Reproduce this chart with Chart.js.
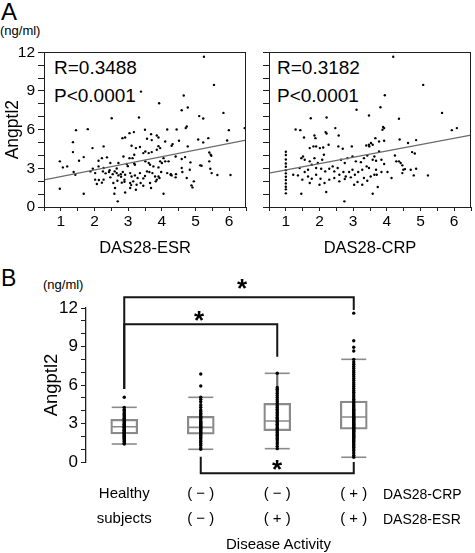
<!DOCTYPE html>
<html><head><meta charset="utf-8">
<script src="https://cdn.jsdelivr.net/npm/chart.js@4.4.1/dist/chart.umd.min.js"></script>
<style>
html,body{margin:0;padding:0;background:#fff}
body{width:475px;height:553px;position:relative;overflow:hidden;font-family:"Liberation Sans",Arial,sans-serif;color:#000}
.t{position:absolute;white-space:nowrap;line-height:1}
.star{position:absolute;white-space:nowrap;line-height:1;font-weight:bold;font-size:26px}
canvas{position:absolute}
</style></head><body>
<div class="t" style="left:1px;top:0px;font-size:24px">A</div>
<div class="t" style="left:0px;top:24px;font-size:13px">(ng/ml)</div>
<div class="t" style="left:54px;top:58px;font-size:19px">R=0.3488</div>
<div class="t" style="left:54px;top:86px;font-size:19px">P&lt;0.0001</div>
<div class="t" style="left:277px;top:58px;font-size:19px">R=0.3182</div>
<div class="t" style="left:277px;top:86px;font-size:19px">P&lt;0.0001</div>
<canvas id="cEsr" width="250" height="220" style="left:0px;top:40px"></canvas>
<canvas id="cCrp" width="225" height="220" style="left:250px;top:40px"></canvas>

<div class="t" style="left:1px;top:267px;font-size:23px">B</div>
<div class="t" style="left:43px;top:278px;font-size:13px">(ng/ml)</div>
<canvas id="cBox" width="475" height="291" style="left:0px;top:262px"></canvas>
<div class="star" style="left:237px;top:275px">*</div>
<div class="star" style="left:194px;top:307px">*</div>
<div class="star" style="left:272px;top:456px">*</div>
<div class="t" style="left:383px;top:487px;font-size:14px">DAS28-CRP</div>
<div class="t" style="left:383px;top:512px;font-size:14px">DAS28-ESR</div>
<div class="t" style="left:226px;top:536px;font-size:15px">Disease Activity</div>

<script>
// ---------- Panel A data ----------
const esrPoints = [
 [3.38,8.95],[2.51,6.89],[3.32,6.94],[1.45,5.96],[1.80,6.04],[1.36,5.03],[1.36,4.26],[1.94,4.57],[2.27,4.70],[0.97,3.54],
 [1.06,3.07],[1.19,3.15],[1.54,3.59],[1.68,3.87],[1.38,2.71],[1.43,2.50],[0.97,1.42],[1.68,1.03],[2.83,5.34],[2.91,5.39],
 [3.04,5.73],[3.17,5.81],[3.50,5.99],[3.10,4.75],[3.23,4.57],[3.35,4.65],[3.45,4.18],[3.04,3.79],[3.13,3.79],[3.18,4.05],
 [2.86,3.92],[2.71,3.41],[2.96,3.33],[3.20,3.28],[2.12,3.59],[2.22,3.79],[2.37,3.85],[2.47,3.41],[1.88,2.76],[1.95,2.97],
 [2.02,2.63],[2.12,3.15],[2.27,3.02],[2.25,2.76],[2.43,2.71],[2.02,2.12],[2.07,1.78],[2.22,1.89],[2.27,2.12],[2.47,2.30],
 [2.54,2.55],[2.60,2.76],[2.66,2.63],[2.71,2.45],[2.78,2.55],[2.84,2.71],[2.91,2.50],[2.56,1.86],[2.68,2.04],[2.81,1.89],
 [2.89,2.12],[2.61,1.47],[2.59,1.03],[2.91,1.13],[2.69,0.44],[3.06,2.63],[3.10,2.37],[3.20,2.45],[3.28,2.25],[3.35,2.63],
 [3.45,2.22],[3.50,2.40],[3.06,1.86],[3.15,1.99],[3.25,1.73],[3.37,1.86],[3.45,1.65],[3.06,1.47],[3.23,1.34],
 [2.13,2.09],[2.33,2.61],[2.45,2.86],[2.66,2.99],[2.79,2.35],[2.89,1.96],[2.99,3.17],[3.09,1.70],[3.18,3.38],
 [5.25,11.66],[5.55,9.47],[3.92,8.05],[4.65,8.65],[4.59,7.51],[4.77,7.72],[5.83,7.30],[5.11,7.05],[5.23,6.86],[6.46,6.12],
 [5.99,5.96],[4.71,6.12],[4.74,6.25],[4.44,6.01],[4.16,6.01],[3.68,5.65],[3.85,5.55],[3.90,5.39],[3.56,5.29],[3.70,5.19],
 [4.10,5.08],[4.32,4.88],[4.29,4.75],[4.51,5.14],[4.77,4.70],[5.08,5.24],[5.23,5.01],[5.38,5.34],[5.94,5.16],[3.90,4.72],
 [3.95,4.57],[3.85,4.44],[3.51,4.31],[3.61,4.18],[3.70,4.26],[4.05,3.79],[4.10,3.54],[4.20,3.54],[4.00,3.41],[3.95,3.54],
 [4.41,3.92],[4.59,3.72],[4.69,3.87],[5.41,4.23],[5.45,4.05],[5.47,3.97],[4.85,3.46],[5.18,3.20],[5.14,3.23],[5.41,3.54],
 [3.51,3.54],[3.61,3.41],[3.65,3.28],[3.75,3.15],[3.90,3.07],[3.98,2.71],[3.56,2.76],[3.63,2.71],[4.27,2.55],[4.29,2.45],
 [4.42,2.55],[4.41,2.30],[4.59,3.02],[4.61,2.71],[4.83,2.89],[5.44,2.97],[5.48,2.63],[5.65,2.48],[6.04,2.48],[3.72,2.63],
 [3.80,2.37],[3.90,2.37],[4.16,2.63],[4.26,2.50],[3.82,1.99],[3.93,2.25],[3.85,2.12],[3.65,1.86],[3.68,1.47],[4.74,2.25],
 [4.88,1.68],[4.91,1.52],[4.95,1.99],[4.05,1.03]
];
const crpPoints = [
 [3.10,7.54],[3.47,7.10],[1.74,6.89],[2.21,6.94],[1.29,6.01],[1.43,5.96],[2.47,6.12],[2.57,5.55],[1.54,5.39],[1.85,5.55],
 [1.88,5.34],[2.18,5.81],[2.21,5.70],[1.71,4.57],[1.82,4.70],[1.90,4.70],[2.01,4.57],[2.11,4.62],[2.27,4.83],[2.56,4.70],
 [2.69,4.52],[2.96,4.70],[3.39,4.77],[3.47,4.83],
 [1.00,4.28],[1.00,4.03],[1.00,3.69],[1.00,3.38],[1.00,3.12],[1.00,2.86],[1.00,2.61],[1.00,2.35],[1.00,2.09],[1.00,1.83],
 [1.00,1.57],[1.00,1.37],[1.00,1.06],
 [1.46,3.79],[1.51,3.92],[1.56,3.66],[1.71,3.54],[1.85,3.79],[1.95,3.41],[2.08,3.66],[2.13,4.05],
 [1.41,3.02],[1.56,2.71],[1.66,2.89],[1.77,3.28],[1.90,3.02],[2.05,2.97],[2.17,2.76],[2.29,2.97],[2.39,3.15],[2.44,2.76],
 [2.54,3.02],[2.64,3.66],[2.75,3.41],[2.83,3.79],[2.98,3.92],[3.08,3.54],[3.23,3.48],[3.32,3.79],[3.42,4.00],
 [2.59,2.50],[2.71,2.71],[2.78,2.37],[2.88,2.71],[2.98,2.89],[3.05,2.50],[3.15,2.71],[3.27,2.89],[3.40,3.15],
 [1.22,2.50],[1.36,2.45],[1.49,2.12],[1.66,2.37],[1.77,2.19],[1.90,2.50],[2.03,2.19],[2.15,1.86],[2.29,2.12],[2.44,2.25],
 [2.59,1.99],[2.75,2.17],[2.93,2.30],[1.46,1.03],[1.71,1.86],[2.00,1.73],[2.20,1.16],[2.74,0.44],
 [3.03,1.73],[3.13,1.94],[3.27,1.73],[3.42,2.04],[3.32,2.25],[3.47,3.02],[3.52,2.37],
 [4.19,11.66],[5.08,9.47],[3.94,8.67],[3.81,7.74],[4.36,6.84],[5.64,7.30],[5.93,5.96],[6.08,6.12],[3.87,5.99],[3.92,6.12],
 [3.89,6.20],[3.66,5.34],[3.77,5.08],[3.92,5.14],[3.53,4.96],[3.58,4.83],[3.48,4.70],[4.38,5.24],[4.63,4.96],[4.87,5.19],
 [4.75,4.26],[4.83,4.15],[3.77,4.31],[3.63,3.92],[3.58,3.66],[3.68,3.59],[3.84,3.66],[3.92,3.33],[4.24,4.00],[4.28,3.54],
 [4.36,3.54],[4.41,3.41],[4.46,3.23],[4.49,2.89],[4.54,2.94],[4.71,2.89],[4.87,2.97],[4.80,2.45],[5.22,2.45],[3.68,2.89],
 [3.63,2.50],[3.70,2.50],[3.84,2.71],[4.02,2.71],[4.14,2.25],[3.73,1.55],[3.58,1.03],[4.46,2.63]
];
const esrFit = [[0.5,2.10],[6.5,5.19]];
const crpFit = [[0.5,2.63],[6.5,5.57]];
const scatterXTitles = ['DAS28-ESR','DAS28-CRP'];
const yTitle = 'Angptl2';

// ---------- Panel B data ----------
const groupKeys = ['Healthy subjects','CRP- ESR-','CRP- ESR+','CRP+ ESR+'];
const groupTickLines = [['Healthy','subjects'],['( \u2212 )','( \u2212 )'],['( \u2212 )','( + )'],['( + )','( + )']];
const boxQ1 = [2.18, 2.16, 2.44, 2.55];
const boxMedian = [2.75, 2.70, 3.20, 3.51];
const boxQ3 = [3.33, 3.56, 4.57, 4.75];
const whiskerLow = [1.40, 0.99, 1.04, 0.37];
const whiskerHigh = [4.26, 5.04, 6.91, 8.00];
const healthyValues = [1.40,1.46,1.58,1.63,1.71,1.80,1.84,1.93,2.01,2.05,2.12,2.19,2.22,2.30,2.34,2.41,2.47,2.52,2.58,2.66,2.70,2.74,2.81,2.88,2.93,2.99,3.05,3.14,3.19,3.27,3.36,3.41,3.52,3.60,3.71,3.78,3.89,4.02,4.10,4.26,5.04];
const negNegValues = [0.99,1.12,1.31,1.45,1.58,1.66,1.79,1.88,1.97,2.05,2.14,2.21,2.29,2.36,2.44,2.50,2.57,2.63,2.70,2.78,2.86,2.92,3.01,3.10,3.18,3.29,3.38,3.47,3.56,3.68,3.80,3.93,4.05,4.26,4.44,4.70,4.88,5.04,5.92,6.86];
const negPosValues = [1.04,1.22,1.40,1.55,1.71,1.83,1.96,2.08,2.19,2.30,2.41,2.52,2.63,2.72,2.85,2.94,3.06,3.15,3.27,3.38,3.49,3.63,3.74,3.86,3.99,4.12,4.27,4.41,4.55,4.70,4.86,5.02,5.19,5.36,5.53,5.67,5.80,6.91];
const posPosValues = [0.37,0.52,0.71,0.88,1.02,1.15,1.27,1.36,1.48,1.57,1.66,1.74,1.83,1.90,1.98,2.05,2.12,2.19,2.26,2.33,2.39,2.46,2.52,2.58,2.64,2.70,2.77,2.83,2.89,2.95,3.02,3.08,3.15,3.21,3.28,3.34,3.41,3.48,3.55,3.63,3.70,3.78,3.86,3.94,4.03,4.12,4.21,4.31,4.42,4.53,4.64,4.76,4.88,5.01,5.15,5.29,5.43,5.58,5.73,5.88,6.03,6.18,6.36,6.50,6.66,6.82,6.98,7.12,7.28,7.45,7.62,7.80,8.00,8.65,8.94,9.45,11.6];
const bracketFrom = [0, 0, 1];
const bracketTo = [3, 2, 3];
const bracketLevel = [12.84, 10.73, -0.88];
const bracketEndFrom = [5.69, 5.69, 0.41];
const bracketEndTo = [11.85, 8.20, 0.00];

// ---------- rendering ----------
Chart.defaults.font.family = '"Liberation Sans", Arial, sans-serif';
Chart.defaults.color = '#000';
const AX = '#1e1e1e';

const framePlugin = {
  id: 'frame',
  afterDraw(c) {
    const a = c.chartArea, ctx = c.ctx;
    ctx.save();
    ctx.strokeStyle = AX; ctx.lineWidth = 1;
    ctx.strokeRect(Math.round(a.left) + 0.5, Math.round(a.top) + 0.5, Math.round(a.right - a.left) - 1, Math.round(a.bottom - a.top));
    ctx.restore();
  }
};

function makeScatter(id, pts, fit, xTitle, withYLabels, yAxisWidth, padRight) {
  return new Chart(document.getElementById(id), {
    type: 'scatter',
    data: { datasets: [
      { data: pts.map(p => ({x: p[0], y: p[1]})), pointRadius: 1.2, pointBackgroundColor: '#000', pointBorderWidth: 0, order: 1 },
      { type: 'line', data: fit.map(p => ({x: p[0], y: p[1]})), borderColor: '#6a6a6a', borderWidth: 1.3, pointRadius: 0, showLine: true, fill: false, order: 0 }
    ]},
    options: {
      responsive: false, animation: false, events: [],
      layout: { padding: { left: 0, right: padRight, top: 12, bottom: 0 } },
      plugins: { legend: { display: false }, tooltip: { enabled: false } },
      scales: {
        x: {
          type: 'linear', min: 0.5, max: 6.5,
          afterFit: s => { s.height = 53; },
          border: { display: true, color: AX },
          grid: { drawOnChartArea: false, tickLength: 4, color: AX },
          ticks: { stepSize: 0.5, autoSkip: false, maxRotation: 0, padding: 1, font: { size: 15.5 },
                   callback: v => Number.isInteger(v) ? String(v) : '' },
          title: { display: true, text: xTitle, font: { size: 16.5 }, padding: { top: 0, bottom: 2 } }
        },
        y: {
          min: 0, max: 12,
          afterFit: s => { s.width = yAxisWidth; },
          border: { display: true, color: AX },
          grid: { drawOnChartArea: false, tickLength: 6, color: AX },
          ticks: { stepSize: 1, autoSkip: false, padding: 3, font: { size: 15.5 },
                   callback: v => (withYLabels && v % 3 === 0) ? String(v) : '' },
          title: { display: withYLabels, text: yTitle, font: { size: 17.5 }, padding: { top: 2.3, bottom: 0 } }
        }
      }
    },
    plugins: [framePlugin]
  });
}

makeScatter('cEsr', esrPoints, esrFit, scatterXTitles[0], true, 44, 2);
makeScatter('cCrp', crpPoints, crpFit, scatterXTitles[1], false, 19, 1);

const bracketPlugin = {
  id: 'brackets',
  afterDatasetsDraw(c) {
    const xs = c.scales.x, ys = c.scales.y, ctx = c.ctx;
    ctx.save();
    ctx.strokeStyle = '#151515'; ctx.lineWidth = 2; ctx.lineJoin = 'miter';
    for (let i = 0; i < bracketLevel.length; i++) {
      const x1 = xs.getPixelForValue(bracketFrom[i]), x2 = xs.getPixelForValue(bracketTo[i]);
      const yb = ys.getPixelForValue(bracketLevel[i]);
      ctx.beginPath();
      ctx.moveTo(x1, ys.getPixelForValue(bracketEndFrom[i]));
      ctx.lineTo(x1, yb);
      ctx.lineTo(x2, yb);
      ctx.lineTo(x2, ys.getPixelForValue(bracketEndTo[i]));
      ctx.stroke();
    }
    ctx.restore();
  }
};

const stripValues = [healthyValues, negNegValues, negPosValues, posPosValues];
const stripData = [];
stripValues.forEach((vals, g) => vals.forEach(v => stripData.push({x: groupKeys[g], y: v})));
const BOX = '#8a8a8a';

new Chart(document.getElementById('cBox'), {
  type: 'bar',
  data: {
    labels: groupKeys,
    datasets: [
      { type: 'bar', data: whiskerLow.map((v, i) => [v, whiskerHigh[i]]), barThickness: 1.5, backgroundColor: '#6a6a6a', grouped: false, order: 6 },
      { type: 'bar', data: boxQ1.map((v, i) => [v, boxQ3[i]]), barThickness: 27, backgroundColor: 'rgba(255,255,255,0)', borderColor: BOX, borderWidth: 1.6, borderSkipped: false, grouped: false, order: 5 },
      { type: 'line', data: boxMedian, showLine: false, pointStyle: 'line', pointRadius: 13, pointBorderColor: BOX, pointBorderWidth: 1.6, order: 4 },
      { type: 'line', data: whiskerLow, showLine: false, pointStyle: 'line', pointRadius: 12.5, pointBorderColor: BOX, pointBorderWidth: 1.6, order: 3 },
      { type: 'line', data: whiskerHigh, showLine: false, pointStyle: 'line', pointRadius: 12.5, pointBorderColor: BOX, pointBorderWidth: 1.6, order: 2 },
      { type: 'line', data: stripData, showLine: false, pointRadius: 1.7, pointBackgroundColor: '#000', pointBorderWidth: 0, order: 0 }
    ]
  },
  options: {
    responsive: false, animation: false, events: [],
    layout: { padding: { left: 0, right: 83, top: 46, bottom: 0 } },
    plugins: { legend: { display: false }, tooltip: { enabled: false } },
    scales: {
      x: {
        type: 'category', offset: true,
        afterFit: s => { s.height = 91; },
        border: { display: false },
        grid: { display: false, drawTicks: false },
        ticks: { autoSkip: false, maxRotation: 0, padding: 19.5, font: { size: 15, lineHeight: 25 / 15 },
                 callback: (v, i) => groupTickLines[i] }
      },
      y: {
        min: 0, max: 12,
        afterFit: s => { s.width = 86; },
        border: { display: true, color: AX, width: 1.3 },
        grid: { drawOnChartArea: false, tickLength: 5, color: AX },
        ticks: { stepSize: 1, autoSkip: false, padding: 3, font: { size: 17 },
                 callback: v => v % 3 === 0 ? String(v) : '' },
        title: { display: true, text: yTitle, font: { size: 18.5 }, padding: { top: 41, bottom: 0 } }
      }
    }
  },
  plugins: [bracketPlugin]
});
</script>
</body></html>
